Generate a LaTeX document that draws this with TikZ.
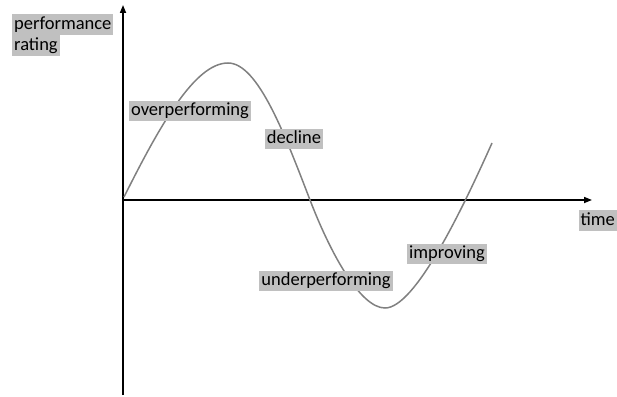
\documentclass[tikz,border=0pt]{standalone}
\usepackage{fontspec}
\setmainfont{Carlito}
\usepackage{tikz}
\usetikzlibrary{arrows.meta}

\definecolor{hilite}{RGB}{192,192,192}
\definecolor{curvegray}{RGB}{128,128,128}
\tikzset{
  tag/.style={fill=hilite, text=black, font=\fontsize{18.5}{22}\selectfont,
    inner xsep=2pt, inner ysep=0.5pt, text height=14.5pt, text depth=5pt},
  axis/.style={line width=1.6pt, -{Triangle[length=8pt,width=6pt]}}
}

\begin{document}
\begin{tikzpicture}[x=1pt,y=-1pt]
  \useasboundingbox (0,0) rectangle (617,396);
  \coordinate (origin) at (123,200);
  \coordinate (ybot) at (123,395);
  \coordinate (ytop) at (123,5);
  \coordinate (xend) at (592,200);
  \draw[axis] (ybot) -- (ytop);
  \draw[axis] (origin) -- (xend);
  \draw[curvegray, line width=1.5pt] (124,197)
    .. controls (160,125) and (195,63) .. (228,63)
    .. controls (258,63) and (285,135) .. (310,200)
    .. controls (330,252) and (360,308) .. (385,308)
    .. controls (415,308) and (462,210) .. (492,143);
  \node[tag, anchor=north west] (perf1) at (12,14) {performance};
  \node[tag, anchor=north west] (perf2) at (perf1.south west) {rating};
  \node[tag] (over) at (190,111) {overperforming};
  \node[tag] (decl) at (294,139) {decline};
  \node[tag] (under) at (326,281) {underperforming};
  \node[tag] (impr) at (447,254) {improving};
  \node[tag, anchor=north east] (time) at (617,210) {time};
\end{tikzpicture}
\end{document}
